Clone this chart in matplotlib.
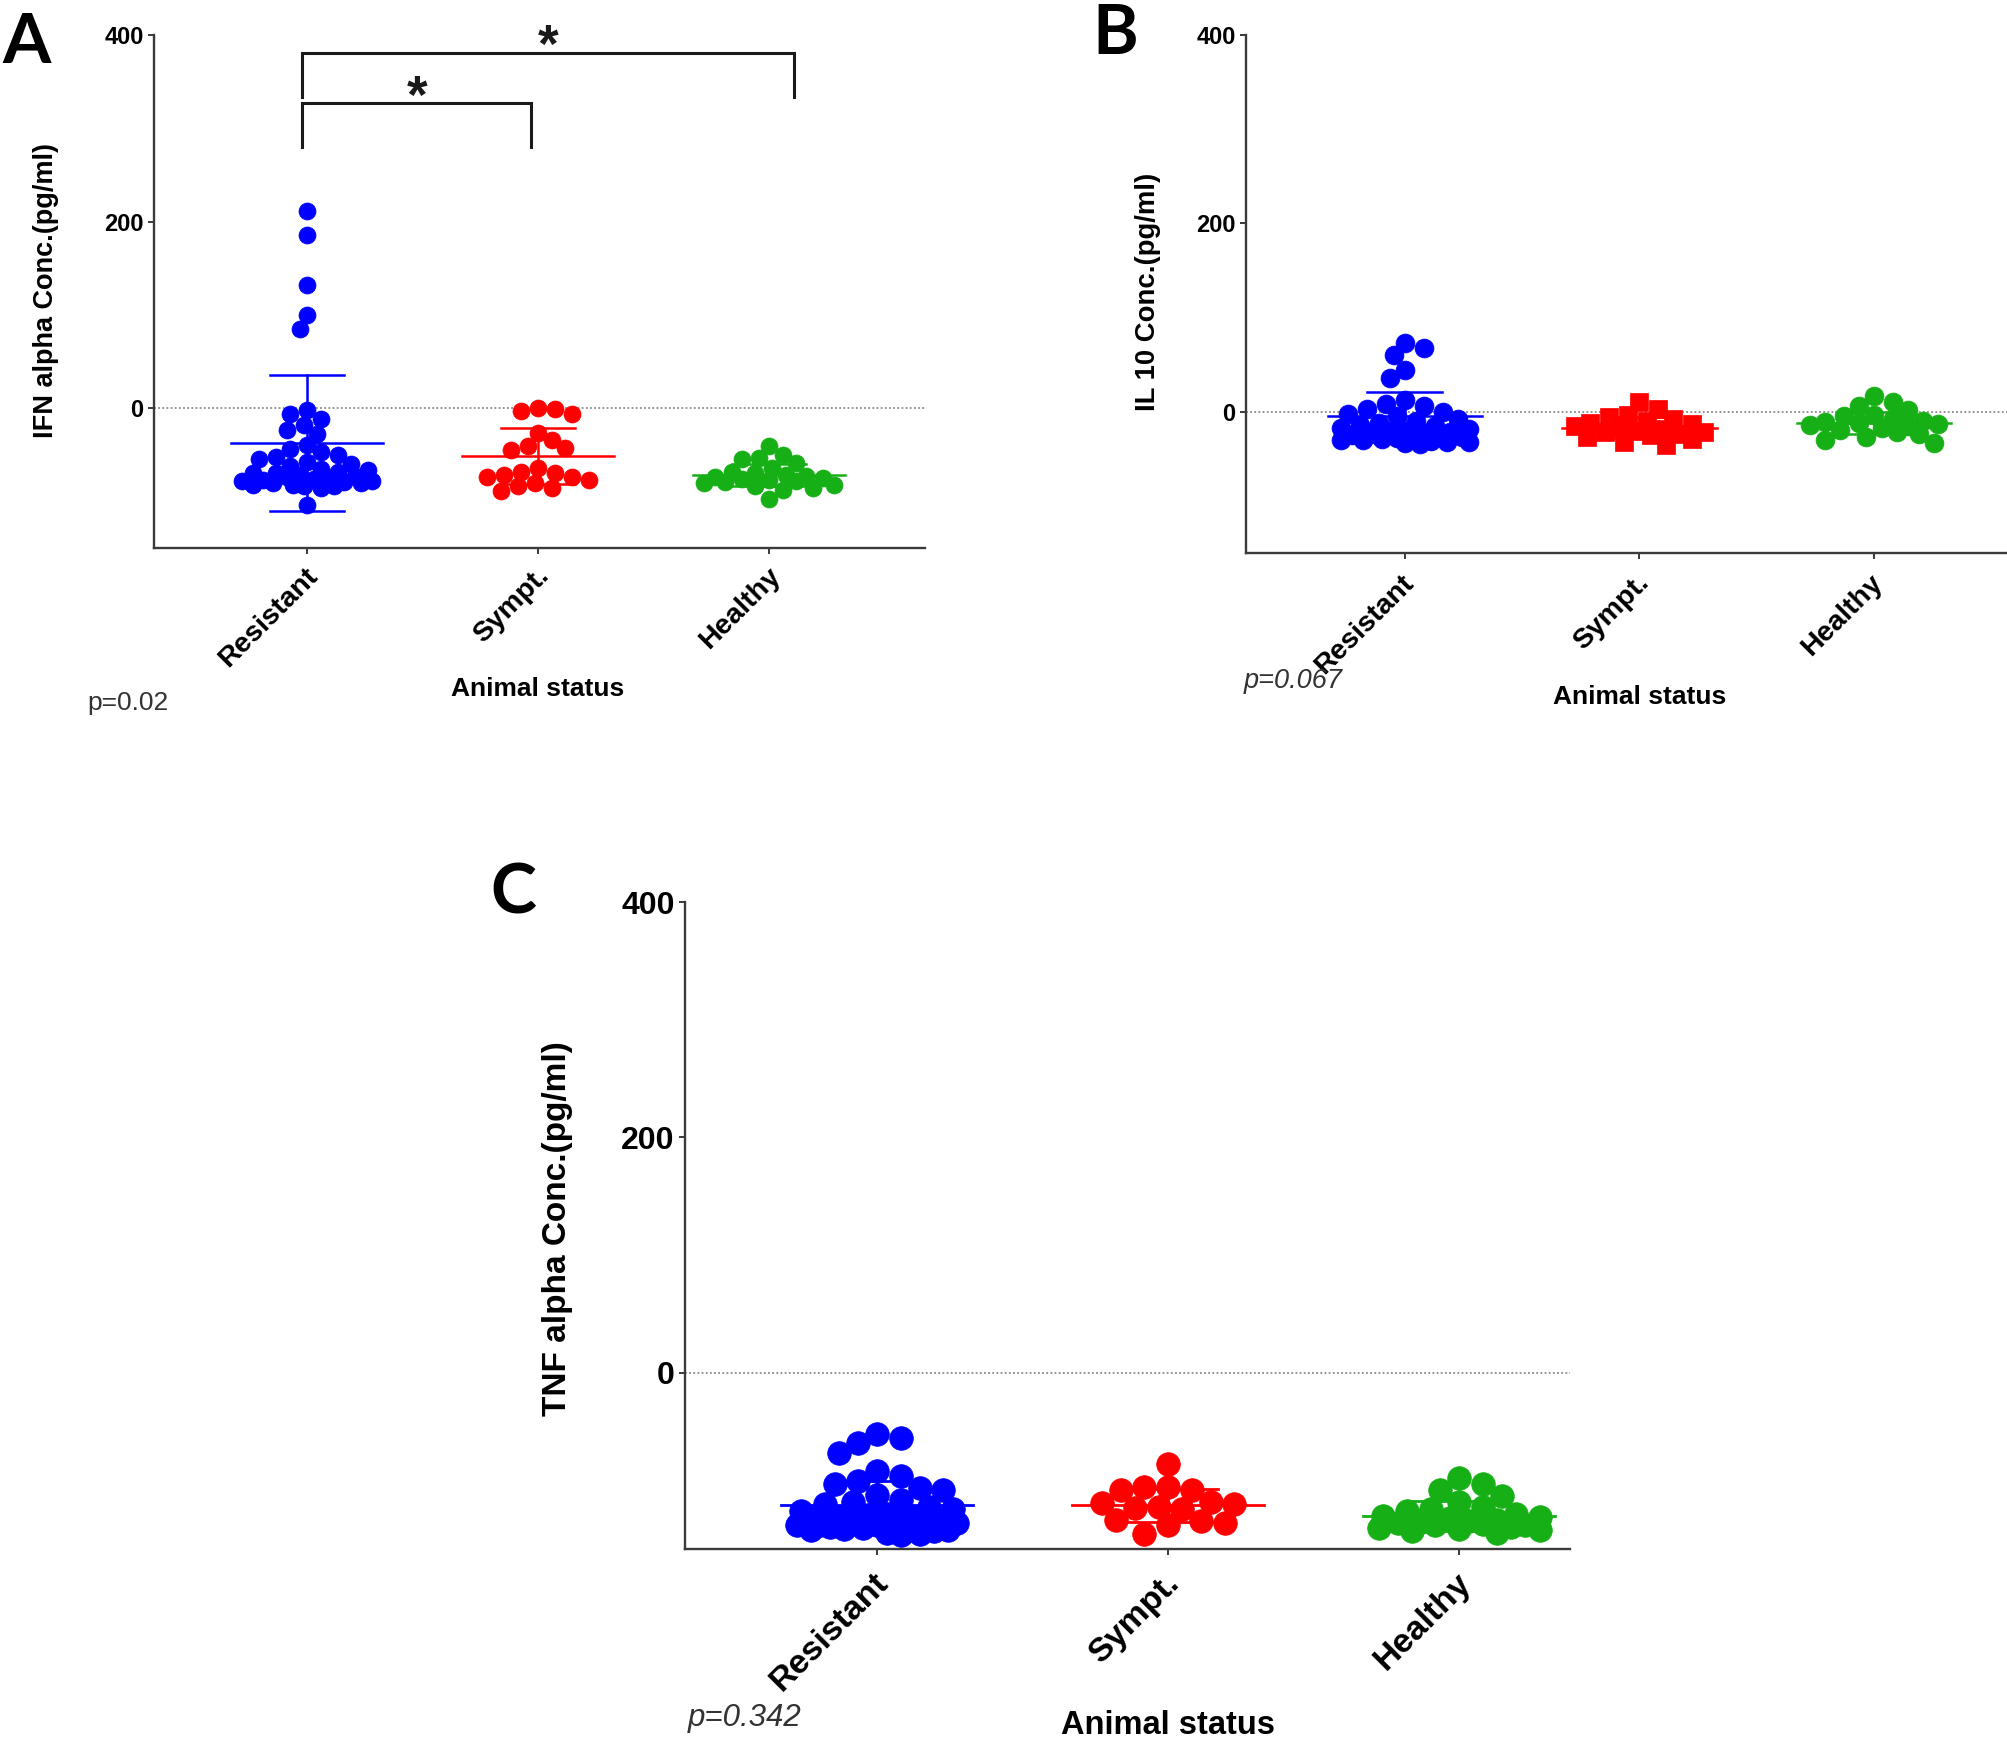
import numpy as np
import matplotlib
matplotlib.use("Agg")
import matplotlib.pyplot as plt
from matplotlib import transforms

plt.rcParams['font.family'] = ['Liberation Sans', 'DejaVu Sans']

# ---------------- data ----------------
categories = ["Resistant", "Sympt.", "Healthy"]
colors = ["#0000ff", "#ff0000", "#16b016"]

A_resistant = [211, 186, 132, 100, 85, -2, -6, -12, -18, -23, -28, -40, -44, -47, -50, -52,
               -55, -58, -60, -62, -65, -66, -68, -70, -70, -72, -73, -74, -75, -76, -77, -78,
               -78, -79, -80, -80, -82, -82, -83, -84, -86, -104]
A_sympt = [0, -1, -3, -6, -27, -34, -41, -43, -45, -64, -68, -70, -72, -74, -74, -77, -80,
           -84, -86, -89]
A_healthy = [-41, -50, -54, -55, -59, -64, -68, -70, -72, -73, -74, -75, -76, -77, -78, -79,
             -80, -82, -84, -86, -88, -97]
A_means = [-37, -51, -72]
A_sds = [73, 30, 12]

B_resistant = [73, 68, 60, 44, 36, 12, 8, 6, 3, 0, -2, -5, -8, -10, -12, -14, -15, -17, -18,
               -20, -20, -22, -23, -24, -25, -26, -27, -28, -28, -29, -30, -30, -31, -32, -32,
               -33, -34]
B_sympt = [10, 3, -3, -6, -8, -10, -12, -13, -15, -16, -18, -20, -21, -22, -24, -25, -27,
           -29, -32, -35]
B_healthy = [17, 10, 6, 2, -3, -5, -8, -10, -11, -12, -13, -14, -15, -17, -19, -21, -24,
             -27, -30, -33]
B_means = [-5, -17, -12]
B_sds = [26, 11, 12]

C_resistant = [-52, -56, -60, -68, -84, -88, -92, -95, -98, -100, -104, -108, -110, -112,
               -114, -116, -118, -120, -121, -122, -123, -124, -125, -126, -127, -128, -129,
               -130, -130, -131, -132, -132, -133, -134, -134, -135, -136, -137, -138, -126,
               -128, -130]
C_sympt = [-78, -97, -97, -100, -100, -110, -111, -112, -114, -115, -116, -125, -126, -128,
           -130, -137]
C_healthy = [-90, -95, -100, -105, -110, -114, -116, -118, -120, -122, -123, -124, -125, -126,
             -127, -128, -129, -130, -130, -131, -132, -133, -134, -135, -136]
C_means = [-113, -113, -122]
C_sds = [21, 14, 13]

yticks = [0, 200, 400]
A_pairs = [(0, 1), (0, 2)]
A_pair_labels = ["*", "*"]
A_bracket_tops = [327, 381]
A_bracket_legs = [47, 47]

W, H = 2008, 1743
fig = plt.figure(figsize=(W / 100, H / 100), dpi=100)


def fx(px):
    return px / W


def fy(py):
    return 1 - py / H


def make_axes(l, t, r, b, xlim, tick_fs):
    ax = fig.add_axes([fx(l), fy(b), fx(r - l), (b - t) / H])
    ax.set_xlim(*xlim)
    ax.set_ylim(-150, 400)
    for s in ['top', 'right']:
        ax.spines[s].set_visible(False)
    for s in ['left', 'bottom']:
        ax.spines[s].set_linewidth(1.7)
        ax.spines[s].set_color('#3a3a3a')
    ax.set_yticks(yticks)
    ax.set_yticklabels([str(v) for v in yticks], fontweight='bold', fontsize=tick_fs)
    ax.set_xticks(range(len(categories)))
    ax.set_xticklabels([])
    ax.tick_params(axis='y', length=4.5, width=1.4, pad=3, color='#3a3a3a')
    ax.tick_params(axis='x', length=4, width=1.4, color='#3a3a3a')
    ax.axhline(0, color='#8a8a8a', lw=1.3, ls=(0, (1, 1.3)), zorder=0)
    return ax


def swarm(ax, xc, vals, diam_px, half_width, min_frac=0.88):
    pts = ax.transData.transform(np.column_stack([np.full(len(vals), xc), vals]))
    x0 = pts[0, 0]
    hw_px = (ax.transData.transform([[xc + half_width, 0]])[0, 0] - x0) - diam_px / 2
    step = diam_px * 0.2
    n = int(hw_px // step)
    offs = sorted(range(-n, n + 1), key=lambda k: (abs(k), k))
    placed = []
    out = []
    thr = min_frac * diam_px
    for i, (_, py) in enumerate(pts):
        best, best_d = None, -1
        order = offs if i % 2 == 0 else sorted(offs, key=lambda k: (abs(k), -k))
        for k in order:
            cx = x0 + k * step
            d = min([np.hypot(cx - qx, py - qy) for qx, qy in placed] or [1e9])
            if d >= thr:
                best = cx
                break
            if d > best_d:
                best_d, best = d, cx
        placed.append((best, py))
        out.append(best)
    inv = ax.transData.inverted()
    return inv.transform(np.column_stack([out, pts[:, 1]]))[:, 0]


def draw_groups(ax, groups, means, sds, s, markers, mean_hw, cap_hw, lw):
    diam_px = np.sqrt(s) * 100 / 72
    for i, vals in enumerate(groups):
        xs = swarm(ax, i, vals, diam_px, mean_hw)
        ax.scatter(xs, vals, s=s, c=colors[i], marker=markers[i], edgecolors=colors[i],
                   linewidths=0.5, zorder=2)
        m, sd = means[i], sds[i]
        ax.plot([i - mean_hw, i + mean_hw], [m, m], color=colors[i], lw=lw, zorder=3)
        ax.plot([i, i], [m - sd, m + sd], color=colors[i], lw=lw, zorder=3)
        for e in (m - sd, m + sd):
            ax.plot([i - cap_hw, i + cap_hw], [e, e], color=colors[i], lw=lw, zorder=3)


def xtick_labels(ax, fs, pad_px, dx):
    tr = transforms.blended_transform_factory(ax.transData, ax.transAxes)
    off = transforms.offset_copy(tr, fig=fig, x=dx, y=-pad_px, units='dots')
    for i, c in enumerate(categories):
        ax.text(i, 0, c, transform=off, rotation=45, ha='right', va='top',
                rotation_mode='anchor', fontsize=fs, fontweight='bold')


def xlabel(ax, y_px, fs):
    tr = transforms.blended_transform_factory(ax.transData, fig.transFigure)
    ax.text(1, fy(y_px), "Animal status", transform=tr, ha='center', va='center',
            fontsize=fs, fontweight='bold')


# ---------------- Panel A ----------------
axA = make_axes(154, 35, 925, 548, (-0.662, 2.675), 17)
draw_groups(axA, [A_resistant, A_sympt, A_healthy], A_means, A_sds, 150, ['o', 'o', 'o'],
            0.33, 0.16, 1.8)
xtick_labels(axA, 20.5, 15, -2)
xlabel(axA, 689, 19)
fig.text(fx(46), fy(290), "IFN alpha Conc.(pg/ml)", rotation=90, ha='center', va='center',
         fontsize=19.5, fontweight='bold')
fig.text(fx(87), fy(703), "p=0.02", ha='left', va='center', fontsize=19, color='#333333')

# significance brackets (right end of the long bracket runs a little past the group)
bracket_ext = [(-0.02, -0.03), (-0.02, 0.11)]
for (i, j), lab, ytop, leg, (el, er) in zip(A_pairs, A_pair_labels, A_bracket_tops,
                                             A_bracket_legs, bracket_ext):
    xl, xr = i + el, j + er
    axA.plot([xl, xl, xr, xr], [ytop - leg, ytop, ytop, ytop - leg], color='#1a1a1a', lw=2.2,
             solid_joinstyle='miter', clip_on=False, zorder=4)
    axA.text((xl + xr) / 2, ytop - 22, lab, ha='center', va='bottom', fontsize=38,
             fontweight='bold', color='#1a1a1a')

# ---------------- Panel B ----------------
axB = make_axes(1246, 35, 2028, 553, (-0.678, 2.657), 17)
draw_groups(axB, [B_resistant, B_sympt, B_healthy], B_means, B_sds, 185, ['o', 's', 'o'],
            0.33, 0.16, 1.8)
xtick_labels(axB, 20.5, 17, -4)
xlabel(axB, 697, 19)
fig.text(fx(1148), fy(292), "IL 10 Conc.(pg/ml)", rotation=90, ha='center', va='center',
         fontsize=19.8, fontweight='bold')
fig.text(fx(1244), fy(681), "p=0.067", ha='left', va='center', fontsize=19.5,
         style='italic', color='#333333')

# ---------------- Panel C ----------------
axC = make_axes(685, 902, 1570, 1549, (-0.660, 2.381), 23)
draw_groups(axC, [C_resistant, C_sympt, C_healthy], C_means, C_sds, 290, ['o', 'o', 'o'],
            0.33, 0.17, 2.0)
xtick_labels(axC, 24.5, 18, -4)
xlabel(axC, 1726, 23.5)
fig.text(fx(558), fy(1229), "TNF alpha Conc.(pg/ml)", rotation=90, ha='center',
         va='center', fontsize=24, fontweight='bold')
fig.text(fx(688), fy(1718), "p=0.342", ha='left', va='center', fontsize=22.5,
         style='italic', color='#333333')

# ---------------- panel letters ----------------
for lab, x, y in [("A", 2, 63), ("B", 1092, 54), ("C", 490, 913)]:
    fig.text(fx(x), fy(y), lab, ha='left', va='baseline', fontsize=50, fontweight='bold',
             family=['Lato', 'Liberation Sans', 'DejaVu Sans'])

fig.savefig("out.png", dpi=100)
